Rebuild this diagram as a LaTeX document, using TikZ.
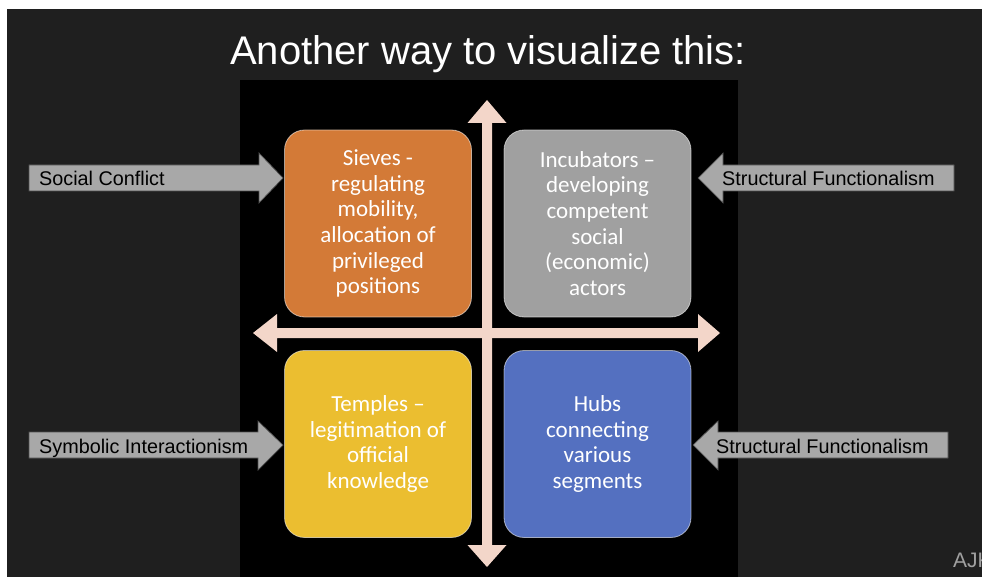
\documentclass[tikz,border=0pt]{standalone}
\usepackage{fontspec}
\setmainfont{Liberation Sans}
\newfontfamily\calib{Carlito}
\definecolor{slidebg}{HTML}{1F1F1F}
\definecolor{qorange}{HTML}{D37A37}
\definecolor{qgray}{HTML}{A0A0A0}
\definecolor{qyellow}{HTML}{EBBE30}
\definecolor{qblue}{HTML}{5470C0}
\definecolor{axiscol}{HTML}{F3D6C9}
\definecolor{sidefill}{HTML}{A8A8A8}
\definecolor{sideedge}{HTML}{505050}
\definecolor{signcol}{HTML}{A0A0A0}
\tikzset{
  qbox/.style={rounded corners=20pt, minimum width=187pt, minimum height=187pt, inner sep=0pt,
    draw=white, draw opacity=0.55, line width=0.8pt, text=white, align=center,
    font=\calib\fontsize{23}{25.7}\selectfont},
  sidearrow/.style={fill=sidefill, draw=sideedge, line width=0.7pt},
  sidelabel/.style={anchor=base west, inner sep=0pt, text=black, font=\fontsize{19.8}{22}\selectfont},
  axisarrow/.style={fill=axiscol}
}
\begin{document}
\begin{tikzpicture}[x=1pt,y=-1pt]
\useasboundingbox (0,0) rectangle (982,577);
\fill[white] (0,0) rectangle (982,577);
\fill[slidebg] (7,9) rectangle (982,577);
\fill[black] (240,80) rectangle (738,577);
% title
\node[anchor=base, inner sep=0pt, text=white, font=\fontsize{40}{42}\selectfont] (title) at (488,65) {Another way to visualize this:};
% axes
\coordinate (vtop) at (487,100);
\coordinate (vbot) at (487,567);
\coordinate (hleft) at (253,333);
\coordinate (hright) at (720,333);
\fill[axisarrow] (vtop) -- (506.5,123) -- (492,123) -- (492,545) -- (506.5,545) -- (vbot) -- (467.5,545) -- (482,545) -- (482,123) -- (467.5,123) -- cycle;
\fill[axisarrow] (hleft) -- (277,314) -- (277,328) -- (698,328) -- (698,314) -- (hright) -- (698,352) -- (698,338) -- (277,338) -- (277,352) -- cycle;
% quadrant boxes
\node[qbox, fill=qorange] (sieves) at (378,223.5) {Sieves -\\regulating\\mobility,\\allocation of\\privileged\\positions};
\node[qbox, fill=qgray] (incub) at (597.5,223.5) {Incubators –\\developing\\competent\\social\\(economic)\\actors};
\node[qbox, fill=qyellow] (temples) at (378,444) {Temples –\\legitimation of\\official\\knowledge};
\node[qbox, fill=qblue] (hubs) at (597.5,444) {Hubs\\connecting\\various\\segments};
% side arrows
\draw[sidearrow] (29,165) -- (259,165) -- (259,153) -- (283,178) -- (259,203) -- (259,191) -- (29,191) -- cycle;
\draw[sidearrow] (954,165) -- (723,165) -- (723,153) -- (698,178) -- (723,203) -- (723,191) -- (954,191) -- cycle;
\draw[sidearrow] (29,432) -- (258,432) -- (258,421) -- (283,445) -- (258,470) -- (258,458) -- (29,458) -- cycle;
\draw[sidearrow] (948,432) -- (718,432) -- (718,421) -- (693,445) -- (718,470) -- (718,458) -- (948,458) -- cycle;
\node[sidelabel] (lconf) at (39,186) {Social Conflict};
\node[sidelabel] (lsf1) at (722,186) {Structural Functionalism};
\node[sidelabel] (lsym) at (39,453) {Symbolic Interactionism};
\node[sidelabel] (lsf2) at (716,453) {Structural Functionalism};
% signature (cut off at the right edge, as in the reference)
\begin{scope}
\clip (0,0) rectangle (982,577);
\node[anchor=base west, inner sep=0pt, text=signcol, font=\fontsize{21}{24}\selectfont] (sig) at (953,567) {AJK};
\end{scope}
\end{tikzpicture}
\end{document}
